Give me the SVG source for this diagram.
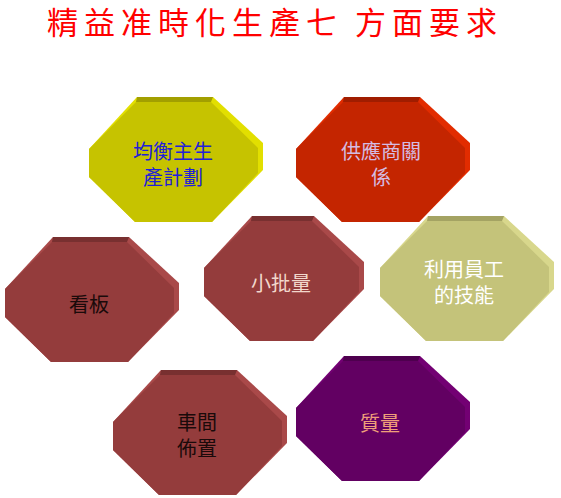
<svg xmlns="http://www.w3.org/2000/svg" width="561" height="498" viewBox="0 0 561 498">
<style>
  .t { font-family: "Liberation Sans", "Noto Sans CJK TC", "Noto Sans CJK SC", sans-serif; font-size: 20px; text-anchor: middle; }
  .title { font-family: "Liberation Sans", "Noto Sans CJK TC", "Noto Sans CJK SC", sans-serif; font-size: 31px; fill: #FF0000; letter-spacing: 6px; }
  .y .s { fill: #E2DF00; } .y .u { fill: #A29F00; } .y .f { fill: #C6C300; }
  .r .s { fill: #E22C00; } .r .u { fill: #A01D00; } .r .f { fill: #C42500; }
  .b .s { fill: #A94949; } .b .u { fill: #783030; } .b .f { fill: #943C3C; }
  .k .s { fill: #D8D78C; } .k .u { fill: #A4A363; } .k .f { fill: #C4C37A; }
  .p .s { fill: #730073; } .p .u { fill: #4E004E; } .p .f { fill: #620062; }
</style>
<rect width="561" height="498" fill="#FFFFFF"/>
<text class="title" x="47" y="34">精益准時化生產七<tspan x="355">方面要求</tspan></text>
<g id="connectors"/>
<g id="node-balance" class="y" transform="translate(89,97)">
  <polygon class="s" points="48,0 124,0 174,46 174,73 123,125 46,125 0,80 0,52"/>
  <polygon class="u" points="47,5 48,0 124,0 122,5"/>
  <polygon class="f" points="47,5 122,5 169,51 169,76 123,125 46,125 0,80 0,52"/>
  <text class="t" fill="#2020D8"><tspan x="84" y="62">均衡主生</tspan><tspan x="84" y="88">產計劃</tspan></text>
</g>
<g id="node-supplier" class="r" transform="translate(296,97)">
  <polygon class="s" points="48,0 124,0 174,46 174,73 123,125 46,125 0,80 0,52"/>
  <polygon class="u" points="47,5 48,0 124,0 122,5"/>
  <polygon class="f" points="47,5 122,5 169,51 169,76 123,125 46,125 0,80 0,52"/>
  <text class="t" fill="#D4BCE2"><tspan x="85" y="62">供應商關</tspan><tspan x="85" y="88">係</tspan></text>
</g>
<g id="node-kanban" class="b" transform="translate(5,237)">
  <polygon class="s" points="48,0 124,0 174,46 174,73 123,125 46,125 0,80 0,52"/>
  <polygon class="u" points="47,5 48,0 124,0 122,5"/>
  <polygon class="f" points="47,5 122,5 169,51 169,76 123,125 46,125 0,80 0,52"/>
  <text class="t" x="84" y="75" fill="#1A0A0A">看板</text>
</g>
<g id="node-smallbatch" class="b" transform="translate(204,216)">
  <polygon class="s" points="48,0 110,0 160,46 160,73 109,125 46,125 0,80 0,52"/>
  <polygon class="u" points="47,5 48,0 110,0 108,5"/>
  <polygon class="f" points="47,5 108,5 155,51 155,76 109,125 46,125 0,80 0,52"/>
  <text class="t" x="77" y="75" fill="#F2D8CC">小批量</text>
</g>
<g id="node-skills" class="k" transform="translate(380,216)">
  <polygon class="s" points="48,0 124,0 174,46 174,73 123,125 46,125 0,80 0,52"/>
  <polygon class="u" points="47,5 48,0 124,0 122,5"/>
  <polygon class="f" points="47,5 122,5 169,51 169,76 123,125 46,125 0,80 0,52"/>
  <text class="t" fill="#FFFFFF"><tspan x="84" y="61">利用員工</tspan><tspan x="84" y="87">的技能</tspan></text>
</g>
<g id="node-layout" class="b" transform="translate(113,370)">
  <polygon class="s" points="48,0 124,0 174,46 174,73 123,125 46,125 0,80 0,52"/>
  <polygon class="u" points="47,5 48,0 124,0 122,5"/>
  <polygon class="f" points="47,5 122,5 169,51 169,76 123,125 46,125 0,80 0,52"/>
  <text class="t" fill="#1A0A0A"><tspan x="84" y="60">車間</tspan><tspan x="84" y="86">佈置</tspan></text>
</g>
<g id="node-quality" class="p" transform="translate(296,356)">
  <polygon class="s" points="48,0 124,0 174,46 174,73 123,125 46,125 0,80 0,52"/>
  <polygon class="u" points="47,5 48,0 124,0 122,5"/>
  <polygon class="f" points="47,5 122,5 169,51 169,76 123,125 46,125 0,80 0,52"/>
  <text class="t" x="84" y="75" fill="#F0A07A">質量</text>
</g>
</svg>
